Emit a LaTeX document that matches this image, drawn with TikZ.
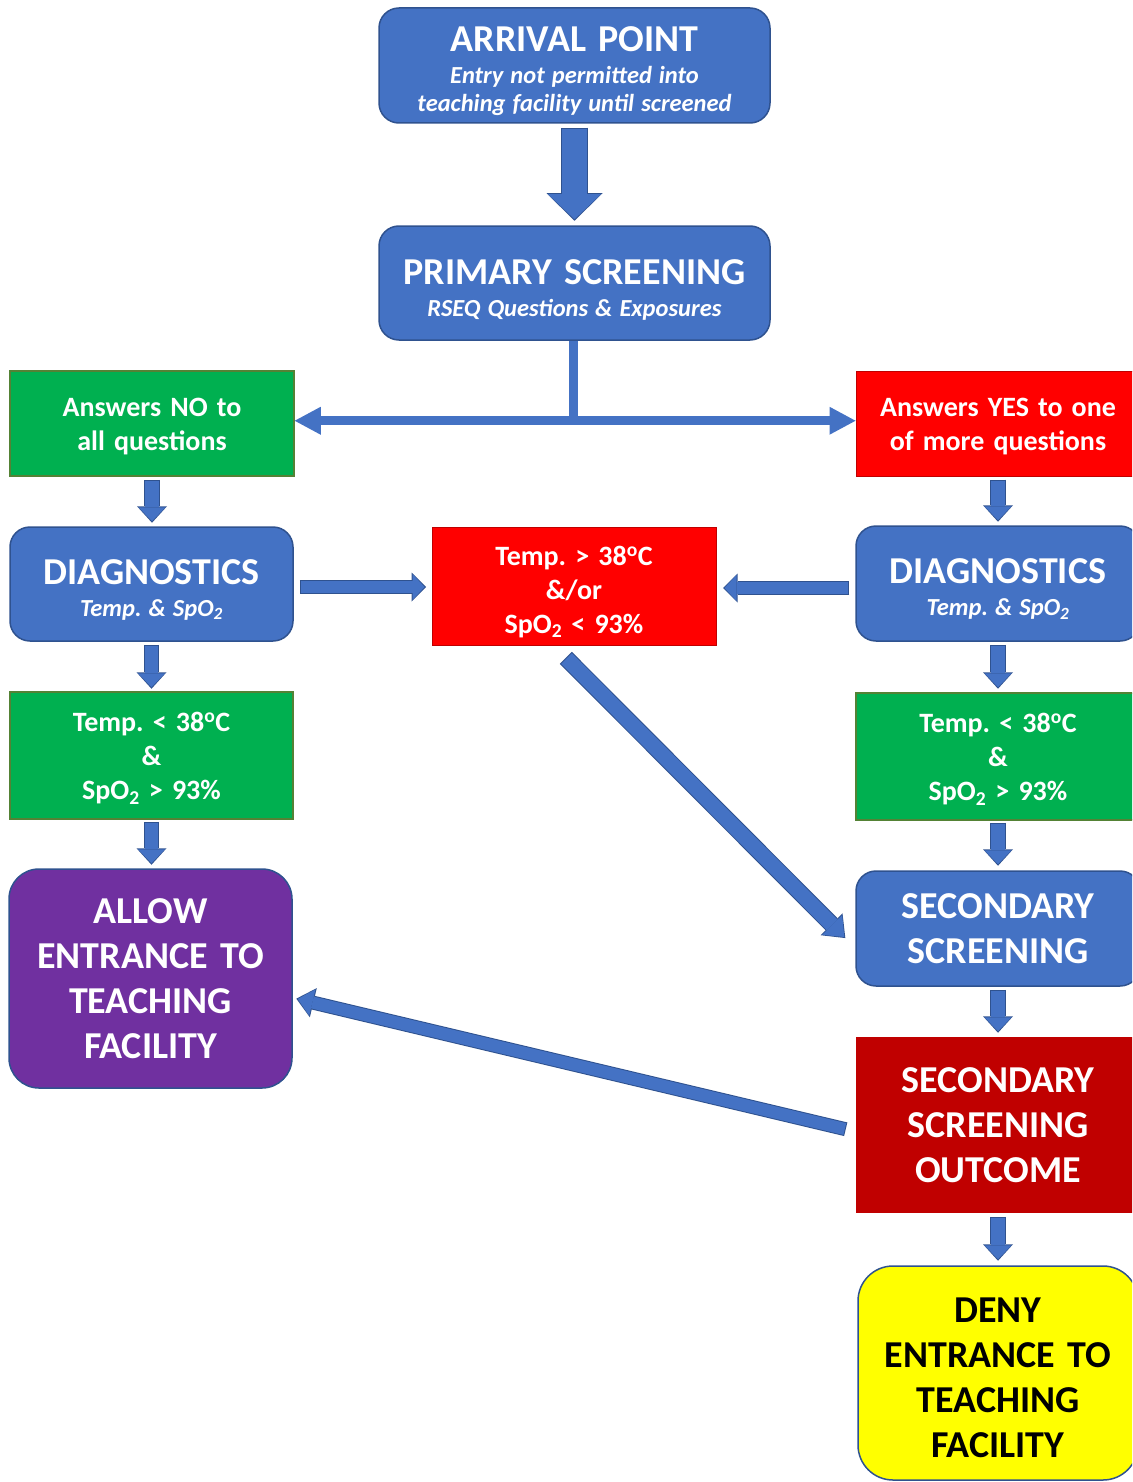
\documentclass[tikz,border=0pt]{standalone}
\usepackage{fontspec}
\setmainfont{Carlito}
\usetikzlibrary{arrows.meta,calc}
\definecolor{boxblue}{HTML}{4472C4}
\definecolor{edgeblue}{HTML}{2F528F}
\definecolor{boxgreen}{HTML}{00B050}
\definecolor{edgegreen}{HTML}{548235}
\definecolor{boxred}{HTML}{FF0000}
\definecolor{edgered}{HTML}{C00000}
\definecolor{boxdarkred}{HTML}{C00000}
\definecolor{boxpurple}{HTML}{7030A0}
\definecolor{boxyellow}{HTML}{FFFF00}
\frenchspacing
\newcommand{\widespace}[1]{\spaceskip=\dimexpr\fontdimen2\font+#1em\relax}
\newcommand{\titlesize}{\fontsize{38}{45}\selectfont\widespace{0.1}}
\newcommand{\subsize}{\fontsize{24.5}{28}\selectfont\itshape\widespace{0.06}}
\newcommand{\notesize}{\fontsize{28}{34}\selectfont\widespace{0.1}}
\tikzset{
  box/.style={line width=1.5pt, align=center, inner sep=0pt, font=\bfseries\frenchspacing, text=white},
  textdrop/.style={execute at begin node={\vskip#1}},
  bluebox/.style={box, fill=boxblue, draw=edgeblue, rounded corners=20pt},
  greenbox/.style={box, fill=boxgreen, draw=edgegreen},
  redbox/.style={box, fill=boxred, draw=edgered, line width=1pt},
  outcomebox/.style={box, fill=boxdarkred},
  allowbox/.style={box, fill=boxpurple, draw=edgeblue, rounded corners=30pt},
  denybox/.style={box, fill=boxyellow, draw=edgeblue, rounded corners=35pt, text=black},
  blockarrow/.style n args={3}{draw=boxblue, line width=#1, -{Triangle[width=#2,length=#3,line width=0pt]}},
  blockedge/.style n args={3}{draw=edgeblue, line width=#1, shorten >=-1.5pt, shorten <=-1pt, -{Triangle[width=#2,length=#3,line width=0pt]}},
  bigdown/.style={preaction={blockedge={27pt}{56pt}{27.5pt}}, blockarrow={25pt}{53pt}{25pt}},
  smalldown/.style={preaction={blockedge={15.5pt}{30pt}{16.5pt}}, blockarrow={13.5pt}{27pt}{14pt}},
  sidearrow/.style={preaction={blockedge={13.5pt}{29pt}{14.5pt}}, blockarrow={11.5pt}{26pt}{12pt}},
  diagarrow/.style={preaction={blockedge={17pt}{31pt}{19.5pt}}, blockarrow={15pt}{28pt}{17pt}},
  backarrow/.style={preaction={blockedge={14pt}{30pt}{17.5pt}}, blockarrow={12pt}{27pt}{15pt}},
}
\begin{document}
\begin{tikzpicture}[x=1pt,y=-1pt]
\useasboundingbox (0,0) rectangle (1132,1482);
\clip (0,0) rectangle (1132,1482);
% top
\node[bluebox, textdrop=-9pt, minimum width=391pt, minimum height=115pt, text width=380pt] (arrival) at (574.5,65.5)
  {{\titlesize ARRIVAL POINT\par}\vskip4pt\subsize Entry not permitted into\par teaching facility until screened\par};
\node[bluebox, textdrop=-7pt, minimum width=391pt, minimum height=114pt, text width=380pt] (primary) at (574.5,283)
  {{\titlesize PRIMARY SCREENING\par}\vskip4pt\subsize RSEQ Questions \& Exposures\par};
% answers
\node[greenbox, textdrop=-10pt, minimum width=284pt, minimum height=105pt, text width=275pt] (no) at (152,423.5)
  {\notesize Answers NO to\par all questions\par};
\node[redbox, textdrop=-10pt, minimum width=284pt, minimum height=105pt, text width=275pt] (yes) at (998,423.5)
  {\notesize Answers YES to one\par of more questions\par};
% diagnostics
\node[bluebox, textdrop=-9pt, minimum width=283pt, minimum height=114pt, text width=275pt] (diagL) at (151.5,584)
  {{\titlesize DIAGNOSTICS\par}\vskip4pt\subsize Temp. \& SpO\textsubscript{2}\par};
\node[bluebox, textdrop=-9pt, minimum width=284pt, minimum height=115pt, text width=275pt] (diagR) at (998,583.5)
  {{\titlesize DIAGNOSTICS\par}\vskip4pt\subsize Temp. \& SpO\textsubscript{2}\par};
\node[redbox, textdrop=-3pt, minimum width=284pt, minimum height=118pt, text width=275pt] (mid) at (574,586)
  {\notesize Temp. > 38\textsuperscript{o}C\par \&/or\par SpO\textsubscript{2} < 93\%\par};
% results
\node[greenbox, textdrop=-9pt, minimum width=283pt, minimum height=127pt, text width=275pt] (okL) at (151.5,755.5)
  {\notesize Temp. < 38\textsuperscript{o}C\par \&\par SpO\textsubscript{2} > 93\%\par};
\node[greenbox, textdrop=-9pt, minimum width=284pt, minimum height=127pt, text width=275pt] (okR) at (998,756.5)
  {\notesize Temp. < 38\textsuperscript{o}C\par \&\par SpO\textsubscript{2} > 93\%\par};
\node[allowbox, minimum width=283pt, minimum height=219pt, text width=275pt] (allow) at (150.5,978.5)
  {\titlesize ALLOW\par ENTRANCE TO\par TEACHING\par FACILITY\par};
\node[bluebox, minimum width=284pt, minimum height=115pt, text width=275pt] (second) at (998,928.5)
  {\titlesize SECONDARY\par SCREENING\par};
\node[outcomebox, minimum width=284pt, minimum height=176pt, text width=275pt] (outcome) at (998,1125)
  {\titlesize SECONDARY\par SCREENING\par OUTCOME\par};
\node[denybox, textdrop=-10pt, minimum width=280pt, minimum height=214pt, text width=270pt] (deny) at (998,1373)
  {\titlesize DENY\par ENTRANCE TO\par TEACHING\par FACILITY\par};
% connectors
\draw[bigdown] ($(arrival.south)+(0,5)$) -- ($(primary.north)+(0,-6)$);
\coordinate (split) at ($(primary.south)+(-1,80)$);
\draw[boxblue, line width=9pt] ($(primary.south)+(-1,0)$) -- (split);
\draw[boxblue, line width=9pt, {Triangle[width=28pt,length=26pt,line width=0pt]}-{Triangle[width=28pt,length=26pt,line width=0pt]}]
  (no.east |- split) -- (yes.west |- split);
\draw[smalldown] ($(no.south)+(0,4)$) -- ($(no.south |- diagL.north)+(0,-5)$);
\draw[smalldown] ($(yes.south)+(0,4)$) -- ($(yes.south |- diagR.north)+(0,-5)$);
\draw[sidearrow] ($(diagL.east)+(7,3)$) -- ($(mid.west)+(-7,1)$);
\draw[sidearrow] ($(diagR.west)+(-7,4.5)$) -- ($(mid.east)+(8,2)$);
\draw[smalldown] ($(diagL.south)+(0,4)$) -- ($(diagL.south |- okL.north)+(0,-4)$);
\draw[smalldown] ($(diagR.south)+(0,4)$) -- ($(diagR.south |- okR.north)+(0,-5)$);
\draw[smalldown] ($(okL.south)+(0,3)$) -- ($(okL.south |- allow.north)+(0,-5)$);
\draw[smalldown] ($(okR.south)+(0,3)$) -- ($(okR.south |- second.north)+(0,-6)$);
\draw[diagarrow] ($(mid.south)+(-7.5,13)$) -- ($(second.west)+(-11,8.5)$);
\draw[smalldown] ($(second.south)+(0,4)$) -- ($(second.south |- outcome.north)+(0,-5)$);
\draw[backarrow] ($(outcome.west)+(-10.5,4)$) -- ($(allow.east)+(5,20.5)$);
\draw[smalldown] ($(outcome.south)+(0,4)$) -- ($(outcome.south |- deny.north)+(0,-6)$);
\end{tikzpicture}
\end{document}
